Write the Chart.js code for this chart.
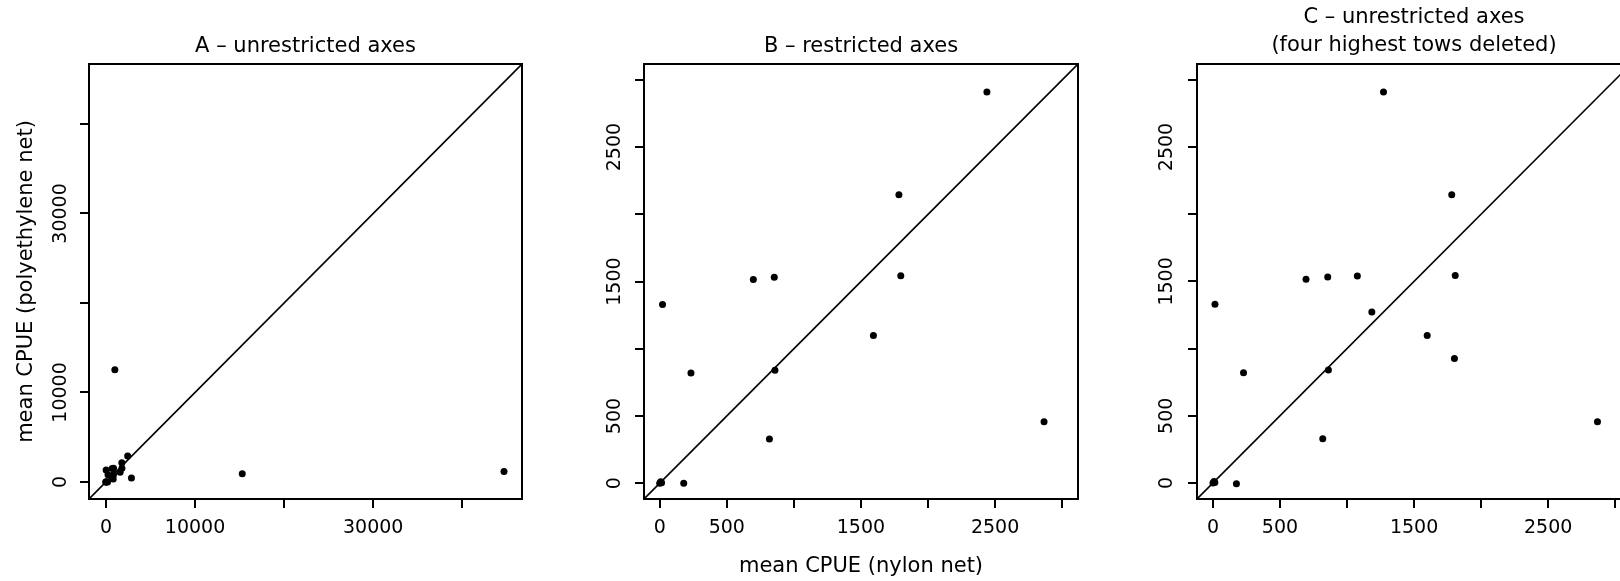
<!DOCTYPE html>
<html>
<head>
<meta charset="utf-8">
<title>mean CPUE - nylon vs polyethylene net</title>
<script src="https://cdn.jsdelivr.net/npm/chart.js@4.4.1/dist/chart.umd.min.js"></script>
<style>
  html, body { margin: 0; padding: 0; background: #fff; overflow: hidden; }
  body { width: 1620px; height: 581px; position: relative; }
  canvas { position: absolute; top: 0; }
</style>
</head>
<body>
<canvas id="chartA" width="540" height="581" style="left:0px"></canvas>
<canvas id="chartB" width="540" height="581" style="left:560px"></canvas>
<canvas id="chartC" width="560" height="581" style="left:1100px"></canvas>
<script>
// A - alle tows, full range
const aNylon = [0, 8, 14, 179, 21, 233, 698, 854, 859, 818, 1593, 1783, 1797, 2439, 2865, 1000, 15300, 44680];
const aPoly  = [0, 12, 4, 0, 1330, 820, 1516, 1533, 840, 330, 1098, 2145, 1544, 2910, 457, 12540, 930, 1180];

// B - same tows, axes cut at ~3000
const bNylon = [0, 8, 14, 179, 21, 233, 698, 854, 859, 818, 1593, 1783, 1797, 2439, 2865];
const bPoly  = [0, 12, 4, 0, 1330, 820, 1516, 1533, 840, 330, 1098, 2145, 1544, 2910, 457];

// C - four highest tows deleted
const cNylon = [0, 8, 14, 175, 15, 228, 694, 856, 1077, 1185, 861, 819, 1598, 1781, 1807, 1801, 1272, 2868];
const cPoly  = [0, 12, 4, -5, 1330, 820, 1516, 1533, 1541, 1272, 840, 330, 1098, 2145, 1544, 927, 2910, 455];

// axis ranges (same on x and y, so the 1:1 line runs corner to corner)
const rangeA = [-1900, 46700];
const rangeB = [-117, 3118];
const rangeC = [-119, 3118];

// tick marks and the labels R kept
const ticksA = [0, 10000, 20000, 30000, 40000];
const labelsA = ['0', '10000', '', '30000', ''];
const ticksBC = [0, 500, 1000, 1500, 2000, 2500, 3000];
const labelsBC = ['0', '500', '', '1500', '', '2500', ''];

Chart.defaults.font.family = 'DejaVu Sans';
Chart.defaults.color = '#000';

function mainAxis(p, horiz) {
  return {
    type: 'linear',
    position: horiz ? 'bottom' : 'left',
    min: p.range[0],
    max: p.range[1],
    afterBuildTicks: s => { s.ticks = p.tickVals.map(v => ({ value: v })); },
    afterFit: s => { if (horiz) s.height = 82; else s.width = p.yWidth; },
    border: { display: true, color: '#000', width: 2 },
    grid: { display: true, drawOnChartArea: false, drawTicks: true, tickLength: 9, lineWidth: 2, tickColor: '#000' },
    ticks: {
      autoSkip: false,
      color: '#000',
      font: { size: 19 },
      padding: horiz ? 9 : p.yTickPad,
      minRotation: horiz ? 0 : 90,
      maxRotation: horiz ? 0 : 90,
      crossAlign: horiz ? 'near' : 'center',
      callback: v => p.tickLabels[p.tickVals.indexOf(v)]
    },
    title: horiz ? p.xTitle : p.yTitle
  };
}

// top and right side of the box
function frameAxis(pos, range) {
  return {
    type: 'linear',
    position: pos,
    min: range[0],
    max: range[1],
    afterFit: s => { if (pos === 'top') s.height = 0; else s.width = 0; },
    border: { display: true, color: '#000', width: 2 },
    grid: { display: false },
    ticks: { display: false }
  };
}

function makePanel(id, p) {
  return new Chart(document.getElementById(id), {
    type: 'scatter',
    data: {
      datasets: [
        {
          type: 'line',
          data: p.range.map(v => ({ x: v, y: v })),
          borderColor: '#000',
          borderWidth: 1.6,
          pointRadius: 0,
          fill: false
        },
        {
          data: p.xs.map((x, i) => ({ x: x, y: p.ys[i] })),
          backgroundColor: '#000',
          borderColor: '#000',
          pointRadius: 3.5,
          pointBorderWidth: 0
        }
      ]
    },
    options: {
      responsive: false,
      animation: false,
      events: [],
      layout: { padding: { left: 0, right: p.padRight, top: 0, bottom: 0 } },
      plugins: {
        legend: { display: false },
        tooltip: { enabled: false },
        title: {
          display: true,
          text: p.title,
          fullSize: false,
          color: '#000',
          font: { size: 21, weight: 'normal', lineHeight: p.titleLine },
          padding: p.titlePad
        }
      },
      scales: {
        x: mainAxis(p, true),
        y: mainAxis(p, false),
        x2: frameAxis('top', p.range),
        y2: frameAxis('right', p.range)
      }
    }
  });
}

const noTitle = { display: false };

let chartA = makePanel('chartA', {
  xs: aNylon, ys: aPoly, range: rangeA,
  tickVals: ticksA, tickLabels: labelsA,
  title: 'A \u2013 unrestricted axes', titleLine: 1.2, titlePad: { top: 34.1, bottom: 4.7 },
  yWidth: 89, padRight: 18, yTickPad: -11,
  xTitle: noTitle,
  yTitle: { display: true, text: 'mean CPUE (polyethylene net)', color: '#000', font: { size: 21 }, padding: { top: 14.1, bottom: 0 } }
});

let chartB = makePanel('chartB', {
  xs: bNylon, ys: bPoly, range: rangeB,
  tickVals: ticksBC, tickLabels: labelsBC,
  title: 'B \u2013 restricted axes', titleLine: 1.2, titlePad: { top: 34.1, bottom: 4.7 },
  yWidth: 84, padRight: 22, yTickPad: -4,
  xTitle: { display: true, text: 'mean CPUE (nylon net)', color: '#000', font: { size: 21 }, padding: { top: 0, bottom: 1.7 } },
  yTitle: noTitle
});

let chartC = makePanel('chartC', {
  xs: cNylon, ys: cPoly, range: rangeC,
  tickVals: ticksBC, tickLabels: labelsBC,
  title: ['C \u2013 unrestricted axes', '(four highest tows deleted)'], titleLine: 1.352, titlePad: { top: 3.1, bottom: 4.1 },
  yWidth: 97, padRight: 29, yTickPad: -3,
  xTitle: noTitle,
  yTitle: noTitle
});
</script>
</body>
</html>
